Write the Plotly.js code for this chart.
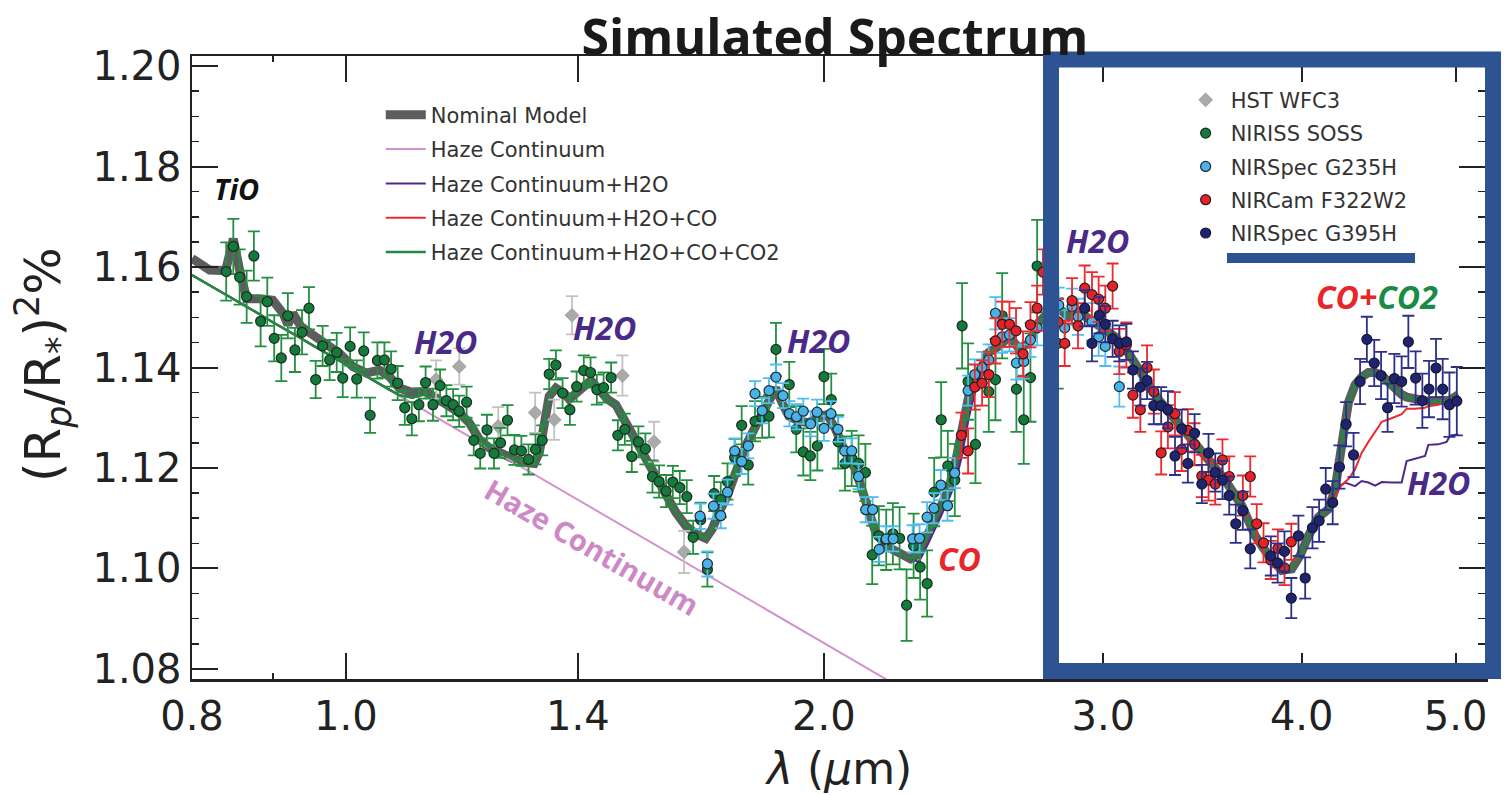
<!DOCTYPE html>
<html><head><meta charset="utf-8">
<script src="https://cdn.plot.ly/plotly-3.0.1.min.js"></script>
<style>html,body{margin:0;padding:0;background:#fff;} #chart{width:1507px;height:795px;}</style>
</head><body><div id="chart"></div>
<script>
// ---------- model curves (wavelength in micron, (Rp/R*)^2 in %) ----------
const modelWave = [
0.8000,0.8207,0.8400,0.8494,0.8572,0.8660,0.8824,0.8995,0.9128,0.9194,
0.9260,0.9373,0.9532,0.9719,0.9908,1.0100,1.0298,1.0499,1.0652,1.0807,
1.1017,1.1234,1.1451,1.1674,
1.1788,1.1960,1.2134,1.2312,1.2491,1.2735,1.2986,1.3142,1.3237,1.3333,
1.3430,1.3561,1.3725,1.3825,1.3960,1.4129,1.4267,1.4439,1.4614,1.4791,
1.5008,1.5228,1.5450,1.5676,1.5904,1.6137,1.6372,1.6611,1.6853,1.7015,
1.7181,1.7389,1.7601,1.7858,1.8119,1.8384,1.8652,1.8831,1.9015,1.9292,
1.9574,1.9860,2.0101,2.0346,2.0643,2.0944,2.1250,2.1561,2.1876,2.2301,
2.2682,2.2956,2.3291,2.3631,2.3976,2.4210,2.4434,2.4681,2.5041,2.5407,
2.5777,2.6179,2.6535,2.6923,2.7316,2.7714,2.8119,2.8529,2.8945,2.9513,
2.9928,3.0518,3.1120,3.1883,3.2502,3.3300,3.4105,3.4944,3.5754,3.6673,
3.7390,3.8118,3.8861,3.9428,3.9909,4.0392,4.0982,4.1580,
4.1985,4.2289,4.2597,4.2802,4.3215,4.3630,4.4061,4.4494,4.4926,4.5571,
4.6240,4.6576,4.7145,4.7835,4.8063,4.8764,4.9356,4.9598,5.0198];

const nominalModel = [
1.1617,1.1594,1.1593,1.1656,1.1594,1.1537,1.1537,1.1534,1.1508,1.1485,
1.1508,1.1481,1.1465,1.1448,1.1428,1.1402,1.1389,1.1395,1.1382,1.1359,
1.1350,1.1352,1.1336,1.1320,
1.1310,1.1290,1.1257,1.1240,1.1229,1.1219,1.1211,1.1209,1.1230,1.1290,
1.1343,1.1359,1.1349,1.1337,1.1350,1.1366,1.1374,1.1356,1.1337,1.1326,
1.1290,1.1250,1.1217,1.1178,1.1145,1.1112,1.1085,1.1069,1.1060,1.1079,
1.1112,1.1145,1.1191,1.1244,1.1283,1.1323,1.1359,1.1329,1.1303,1.1293,
1.1290,1.1303,1.1306,1.1277,1.1230,1.1197,1.1131,1.1072,1.1045,1.1032,
1.1019,1.1029,1.1072,1.1118,1.1158,1.1211,1.1270,1.1343,1.1389,1.1430,
1.1442,1.1462,1.1438,1.1448,1.1490,1.1510,1.1518,1.1501,1.1511,1.1494,
1.1481,1.1461,1.1428,1.1376,1.1336,1.1296,1.1257,1.1217,1.1178,1.1125,
1.1065,1.1026,1.0996,1.0999,1.1026,1.1065,1.1102,1.1118,
1.1158,1.1224,1.1303,1.1330,1.1365,1.1381,1.1390,1.1390,1.1384,1.1362,
1.1346,1.1341,1.1336,1.1334,1.1333,1.1333,1.1333,1.1335,1.1346];

const hazeH2OCOCO2 = [
1.1584,1.1564,1.1545,1.1536,1.1529,1.1521,1.1506,1.1490,1.1479,1.1473,
1.1467,1.1458,1.1444,1.1428,1.1413,1.1398,1.1383,1.1367,1.1356,1.1345,
1.1340,1.1348,1.1332,1.1318,
1.1310,1.1290,1.1257,1.1240,1.1229,1.1219,1.1211,1.1209,1.1230,1.1290,
1.1343,1.1359,1.1349,1.1337,1.1350,1.1366,1.1374,1.1356,1.1337,1.1326,
1.1290,1.1250,1.1217,1.1178,1.1145,1.1112,1.1085,1.1069,1.1060,1.1079,
1.1112,1.1145,1.1191,1.1244,1.1283,1.1323,1.1359,1.1329,1.1303,1.1293,
1.1290,1.1303,1.1306,1.1277,1.1230,1.1197,1.1131,1.1072,1.1045,1.1032,
1.1019,1.1029,1.1072,1.1118,1.1158,1.1211,1.1270,1.1343,1.1389,1.1430,
1.1442,1.1462,1.1438,1.1448,1.1490,1.1510,1.1518,1.1501,1.1511,1.1494,
1.1481,1.1461,1.1428,1.1376,1.1336,1.1296,1.1257,1.1217,1.1178,1.1125,
1.1065,1.1026,1.0996,1.0999,1.1026,1.1065,1.1102,1.1118,
1.1158,1.1224,1.1303,1.1330,1.1365,1.1381,1.1390,1.1390,1.1384,1.1362,
1.1346,1.1341,1.1336,1.1334,1.1333,1.1333,1.1333,1.1335,1.1346];

const hazeH2OCO = [
1.1584,1.1564,1.1545,1.1536,1.1529,1.1521,1.1506,1.1490,1.1479,1.1473,
1.1467,1.1458,1.1444,1.1428,1.1413,1.1398,1.1383,1.1367,1.1356,1.1345,
1.1340,1.1348,1.1332,1.1318,
1.1310,1.1290,1.1257,1.1240,1.1229,1.1219,1.1211,1.1209,1.1230,1.1290,
1.1343,1.1359,1.1349,1.1337,1.1350,1.1366,1.1374,1.1356,1.1337,1.1326,
1.1290,1.1250,1.1217,1.1178,1.1145,1.1112,1.1085,1.1069,1.1060,1.1079,
1.1112,1.1145,1.1191,1.1244,1.1283,1.1323,1.1359,1.1329,1.1303,1.1293,
1.1290,1.1303,1.1306,1.1277,1.1230,1.1197,1.1131,1.1072,1.1045,1.1032,
1.1019,1.1029,1.1072,1.1118,1.1158,1.1211,1.1270,1.1343,1.1389,1.1430,
1.1442,1.1462,1.1438,1.1448,1.1490,1.1510,1.1518,1.1501,1.1511,1.1494,
1.1481,1.1461,1.1428,1.1376,1.1336,1.1296,1.1257,1.1217,1.1178,1.1125,
1.1065,1.1026,1.0996,1.0999,1.1026,1.1065,1.1102,1.1118,
1.1145,1.1162,1.1172,1.1178,1.1197,1.1230,1.1252,1.1272,1.1292,1.1299,
1.1307,1.1318,1.1318,1.1320,1.1323,1.1326,1.1331,1.1334,1.1340];

const hazeH2O = [
1.1584,1.1564,1.1545,1.1536,1.1529,1.1521,1.1506,1.1490,1.1479,1.1473,
1.1467,1.1458,1.1444,1.1428,1.1413,1.1398,1.1383,1.1367,1.1356,1.1345,
1.1340,1.1348,1.1332,1.1318,
1.1310,1.1290,1.1257,1.1240,1.1229,1.1219,1.1211,1.1209,1.1230,1.1290,
1.1343,1.1359,1.1349,1.1337,1.1350,1.1366,1.1374,1.1356,1.1337,1.1326,
1.1290,1.1250,1.1217,1.1178,1.1145,1.1112,1.1085,1.1069,1.1060,1.1079,
1.1112,1.1145,1.1191,1.1244,1.1283,1.1323,1.1359,1.1329,1.1303,1.1293,
1.1290,1.1303,1.1306,1.1277,1.1230,1.1197,1.1131,1.1072,1.1045,1.1032,
1.1019,1.1013,1.1052,1.1095,1.1138,1.1171,1.1224,1.1300,1.1380,1.1430,
1.1442,1.1462,1.1438,1.1448,1.1490,1.1510,1.1518,1.1501,1.1511,1.1494,
1.1481,1.1461,1.1428,1.1376,1.1336,1.1296,1.1257,1.1217,1.1178,1.1125,
1.1065,1.1026,1.0996,1.0999,1.1026,1.1065,1.1102,1.1118,
1.1145,1.1165,1.1171,1.1169,1.1164,1.1174,1.1171,1.1165,1.1172,1.1171,
1.1171,1.1214,1.1219,1.1224,1.1246,1.1247,1.1252,1.1264,1.1267];

const hazeWave = [0.80, 1.00, 1.20, 1.50, 1.80, 2.10, 2.40];
const hazeContinuum = [1.1584, 1.1406, 1.1260, 1.1082, 1.0936, 1.0813, 1.0706];

// ---------- simulated data ----------
const hstWave = [1.1399,1.1788,1.2473,1.3160,1.3528,1.3881,1.4935,1.5637,1.6332];
const hstVal  = [1.1376,1.1402,1.1283,1.1310,1.1296,1.1504,1.1384,1.1252,1.1033];
const hstErr  = [0.0038,0.0036,0.0038,0.0040,0.0040,0.0038,0.0040,0.0040,0.0042];

const nirissWave = [
0.8407,0.8494,0.8572,0.8660,0.8751,0.8837,0.8923,0.9013,0.9106,0.9193,
0.9288,0.9384,0.9479,0.9572,0.9669,0.9768,0.9868,0.9955,1.0062,1.0159,
1.0263,1.0358,1.0468,1.0575,1.0678,1.0781,1.0892,1.1004,1.1117,1.1226,
1.1347,1.1464,1.1570,1.1683,1.1786,1.1914,1.2038,1.2152,1.2271,1.2397,
1.2515,1.2642,1.2770,1.2899,1.3033,1.3166,1.3295,1.3430,1.3561,1.3693,
1.3839,1.3975,1.4121,1.4260,1.4391,1.4533,1.4692,1.4836,1.4987,1.5139,
1.5285,1.5441,1.5600,1.5750,1.5911,1.6067,1.6230,1.6396,1.6548,1.6731,
1.6894,1.7059,1.7224,1.7393,1.7575,1.7755,1.7925,1.8101,1.8290,1.8472,
1.8660,1.9023,1.9217,1.9414,1.9614,1.9815,2.0005,2.0218,2.0424,2.0624,
2.0826,2.1035,2.1244,2.1455,2.1664,2.1895,2.2108,2.2324,2.2552,2.2783,
2.3000,2.3234,2.3473,2.3712,2.3941,2.4184,2.4443,2.4656,2.4922,2.5407,
2.5654,2.5905,2.6446,2.6729,2.6989,2.7253,2.8079];
const nirissVal = [
1.1591,1.1641,1.1580,1.1541,1.1622,1.1492,1.1531,1.1458,1.1419,1.1503,
1.1435,1.1470,1.1518,1.1376,1.1443,1.1415,1.1430,1.1379,1.1442,1.1377,
1.1433,1.1305,1.1414,1.1415,1.1397,1.1369,1.1320,1.1298,1.1326,1.1370,
1.1326,1.1364,1.1334,1.1326,1.1313,1.1331,1.1255,1.1229,1.1276,1.1229,
1.1250,1.1295,1.1236,1.1234,1.1217,1.1237,1.1255,1.1387,1.1405,1.1349,
1.1316,1.1362,1.1394,1.1390,1.1356,1.1360,1.1380,1.1265,1.1277,1.1223,
1.1252,1.1238,1.1183,1.1173,1.1154,1.1172,1.1161,1.1143,1.1062,1.1097,
1.0998,1.1149,1.1137,1.1173,1.1221,1.1285,1.1206,1.1293,1.1301,1.1303,
1.1436,1.1366,1.1277,1.1232,1.1224,1.1244,1.1382,1.1336,1.1252,1.1209,
1.1219,1.1209,1.1191,1.1027,1.1065,1.1057,1.1069,1.1060,1.0927,1.1045,
1.1003,1.0970,1.1152,1.1296,1.1204,1.1176,1.1483,1.1372,1.1247,1.1352,
1.1376,1.1503,1.1357,1.1296,1.1380,1.1602,1.1448];
const nirissErr = [
0.0058,0.0055,0.0055,0.0052,0.0049,0.0050,0.0048,0.0046,0.0046,0.0045,
0.0044,0.0044,0.0042,0.0037,0.0040,0.0040,0.0039,0.0038,0.0038,0.0037,
0.0037,0.0035,0.0036,0.0035,0.0035,0.0034,0.0034,0.0033,0.0033,0.0032,
0.0032,0.0032,0.0031,0.0031,0.0031,0.0031,0.0030,0.0030,0.0030,0.0030,
0.0030,0.0030,0.0030,0.0030,0.0030,0.0030,0.0030,0.0030,0.0029,0.0030,
0.0030,0.0030,0.0030,0.0030,0.0030,0.0030,0.0030,0.0030,0.0031,0.0031,
0.0031,0.0031,0.0032,0.0032,0.0032,0.0032,0.0033,0.0033,0.0033,0.0034,
0.0034,0.0035,0.0035,0.0036,0.0037,0.0038,0.0039,0.0040,0.0041,0.0042,
0.0053,0.0045,0.0046,0.0047,0.0048,0.0049,0.0055,0.0052,0.0053,0.0054,
0.0055,0.0056,0.0057,0.0058,0.0059,0.0060,0.0061,0.0062,0.0071,0.0064,
0.0065,0.0066,0.0068,0.0075,0.0070,0.0072,0.0085,0.0076,0.0077,0.0080,
0.0081,0.0085,0.0085,0.0088,0.0088,0.0092,0.0090];

const g235Wave = [
1.6714,1.6894,1.7042,1.7224,1.7393,1.7575,1.7755,1.7925,1.8101,1.8290,
1.8472,1.8660,1.8852,1.9028,1.9223,1.9414,1.9622,1.9805,2.0005,2.0210,
2.0415,2.0615,2.0826,2.1035,2.1254,2.1469,2.1674,2.1895,2.2118,2.2750,
2.2980,2.3234,2.3463,2.3700,2.3931,2.4184,2.4656,2.4897,2.5162,2.5407,
2.5654,2.5905,2.6179,2.6446,2.6729,2.6989,2.7253,2.8119,2.8364,2.8668,
2.8917,2.9509,2.9796,3.0085,3.0703];
const g235Val = [
1.1104,1.1009,1.1124,1.1105,1.1152,1.1234,1.1213,1.1244,1.1348,1.1314,
1.1354,1.1381,1.1344,1.1308,1.1302,1.1313,1.1288,1.1311,1.1279,1.1308,
1.1277,1.1234,1.1234,1.1183,1.1117,1.1117,1.1038,1.1059,1.1059,1.1059,
1.1060,1.1102,1.1120,1.1166,1.1125,1.1190,1.1354,1.1386,1.1400,1.1415,
1.1508,1.1461,1.1465,1.1409,1.1412,1.1455,1.1479,1.1524,1.1479,1.1521,
1.1501,1.1491,1.1461,1.1442,1.1362];
const g235Err = [
0.0025,0.0025,0.0025,0.0025,0.0025,0.0025,0.0025,0.0025,0.0025,0.0025,
0.0025,0.0025,0.0025,0.0025,0.0025,0.0025,0.0025,0.0025,0.0025,0.0025,
0.0025,0.0025,0.0025,0.0025,0.0025,0.0025,0.0025,0.0025,0.0025,0.0027,
0.0028,0.0030,0.0030,0.0030,0.0030,0.0030,0.0030,0.0030,0.0031,0.0031,
0.0032,0.0032,0.0033,0.0033,0.0034,0.0034,0.0035,0.0035,0.0035,0.0036,
0.0036,0.0037,0.0038,0.0039,0.0040];

const nircamWave = [
2.4418,2.4656,2.4897,2.5162,2.5407,2.5654,2.5905,2.6179,2.6431,2.6702,
2.6989,2.7253,2.7483,2.8090,2.8364,2.8668,2.8917,2.9200,2.9509,2.9796,
3.0085,3.0406,3.0703,3.1018,3.1314,3.1653,3.1962,3.2277,3.2624,3.2945,
3.3285,3.3610,3.3911,3.4243,3.4606,3.4944,3.5285,3.5657,3.6008,3.6726,
3.7124,3.7473,3.7844,3.8246,3.8640,3.9012,3.9400];
const nircamVal = [
1.1265,1.1234,1.1361,1.1369,1.1386,1.1453,1.1486,1.1486,1.1473,1.1427,
1.1485,1.1518,1.1590,1.1491,1.1448,1.1533,1.1483,1.1558,1.1545,1.1536,
1.1518,1.1562,1.1432,1.1445,1.1345,1.1316,1.1400,1.1352,1.1230,1.1282,
1.1308,1.1237,1.1275,1.1247,1.1184,1.1176,1.1168,1.1216,1.1183,1.1145,
1.1183,1.1089,1.1051,1.1017,1.1040,1.1001,1.1053];
const nircamErr = [
0.0045,0.0045,0.0045,0.0045,0.0045,0.0045,0.0045,0.0045,0.0045,0.0045,
0.0045,0.0045,0.0045,0.0045,0.0045,0.0045,0.0045,0.0045,0.0045,0.0045,
0.0045,0.0045,0.0045,0.0045,0.0045,0.0044,0.0044,0.0044,0.0043,0.0043,
0.0043,0.0043,0.0042,0.0042,0.0042,0.0041,0.0041,0.0041,0.0040,0.0040,
0.0040,0.0039,0.0039,0.0038,0.0038,0.0034,0.0036];

const g395Wave = [
2.9200,2.9509,2.9826,3.0085,3.0406,3.0703,3.1018,3.1314,3.1653,3.1962,
3.2277,3.2624,3.2945,3.3285,3.3610,3.3911,3.4243,3.4606,3.4944,3.5285,
3.5657,3.6008,3.6352,3.6726,3.7124,3.8246,3.8626,3.9012,3.9400,3.9811,
4.0202,4.0628,4.1023,4.1418,4.1838,4.2248,4.2660,4.3123,4.3533,4.3964,
4.4437,4.4878,4.5305,4.5753,4.6238,4.6690,4.7186,4.7647,4.8111,4.8601,
4.9075,4.9557,5.0090];
const g395Val = [
1.1518,1.1448,1.1504,1.1486,1.1457,1.1448,1.1451,1.1395,1.1361,1.1374,
1.1324,1.1324,1.1316,1.1224,1.1278,1.1209,1.1269,1.1168,1.1230,1.1191,
1.1176,1.1145,1.1089,1.1115,1.1039,1.1025,1.1011,1.1034,1.0941,1.1065,
1.0981,1.1081,1.1095,1.1158,1.1131,1.1202,1.1287,1.1226,1.1372,1.1456,
1.1409,1.1384,1.1320,1.1378,1.1372,1.1451,1.1379,1.1334,1.1357,1.1399,
1.1357,1.1326,1.1333];
const g395Err = [
0.0036,0.0036,0.0036,0.0036,0.0036,0.0036,0.0036,0.0037,0.0037,0.0037,
0.0037,0.0037,0.0037,0.0038,0.0038,0.0038,0.0038,0.0038,0.0038,0.0038,
0.0038,0.0038,0.0038,0.0038,0.0039,0.0039,0.0039,0.0040,0.0040,0.0040,
0.0041,0.0041,0.0042,0.0042,0.0043,0.0043,0.0044,0.0044,0.0045,0.0045,
0.0046,0.0047,0.0048,0.0049,0.0050,0.0052,0.0053,0.0054,0.0056,0.0058,
0.0060,0.0064,0.0068];

const xTickVals = [0.8, 1.0, 1.4, 2.0, 3.0, 4.0, 5.0];
const xTickText = ['0.8', '1.0', '1.4', '2.0', '3.0', '4.0', '5.0'];
const yTickVals = [1.08, 1.10, 1.12, 1.14, 1.16, 1.18, 1.20];
const yTickText = ['1.08', '1.10', '1.12', '1.14', '1.16', '1.18', '1.20'];

// ---------- traces ----------
function modelTrace(x, y, name, color, width) {
  return {x: x, y: y, type: 'scatter', mode: 'lines', name: name, legend: 'legend',
          legendgroup: name, line: {color: color, width: width}, hoverinfo: 'skip'};
}
function dataTrace(x, y, err, name, fill, errColor, symbol, edge) {
  return {x: x, y: y, type: 'scatter', mode: 'markers', name: name, legend: 'legend2',
          legendgroup: name,
          marker: {symbol: symbol, size: 10, color: fill, line: {color: edge, width: 1.2}},
          error_y: {type: 'data', array: err, visible: true, color: errColor, thickness: 1.8, width: 6}};
}
const traces = [
  modelTrace(modelWave, nominalModel, 'Nominal Model', 'rgba(75,75,75,0.9)', 9),
  modelTrace(hazeWave, hazeContinuum, 'Haze Continuum', '#d492cc', 2),
  modelTrace(modelWave, hazeH2O, 'Haze Continuum+H2O', '#4a2a8a', 2),
  modelTrace(modelWave, hazeH2OCO, 'Haze Continuum+H2O+CO', '#ec2a2f', 2),
  modelTrace(modelWave, hazeH2OCOCO2, 'Haze Continuum+H2O+CO+CO2', '#1e8a43', 2.5),
  dataTrace(hstWave, hstVal, hstErr, 'HST WFC3', '#aaaaaa', '#c2c2c2', 'diamond', '#a5a5a5'),
  dataTrace(nirissWave, nirissVal, nirissErr, 'NIRISS SOSS', '#137a3b', '#22903f', 'circle', '#1d2a20'),
  dataTrace(g235Wave, g235Val, g235Err, 'NIRSpec G235H', '#47b3e6', '#4fbdf0', 'circle', '#1d2a33'),
  dataTrace(nircamWave, nircamVal, nircamErr, 'NIRCam F322W2', '#e4222a', '#f0282e', 'circle', '#2a1a1a'),
  dataTrace(g395Wave, g395Val, g395Err, 'NIRSpec G395H', '#1e2470', '#2c3088', 'circle', '#15172e')
];

// paper-coordinate helpers for the plot frame
const P = {l: 192, r: 1485, t: 56, b: 679};
const px = v => (v - P.l) / (P.r - P.l);
const py = v => (P.b - v) / (P.b - P.t);

const boxColor = '#2e5393';
const labelFont = {family: 'Open Sans, Noto Sans, sans-serif', size: 32};
function label(text, cx, cy, color, extra) {
  return Object.assign({text: '<b><i>' + text + '</i></b>', xref: 'paper', yref: 'paper',
    x: px(cx), y: py(cy), showarrow: false, xanchor: 'center', yanchor: 'middle',
    font: Object.assign({}, labelFont, {color: color})}, extra || {});
}

const annotations = [
  label('TiO', 236, 188, '#111111', {font: Object.assign({}, labelFont, {color: '#111', size: 29})}),
  label('H2O', 445, 341, '#4a2a88'),
  label('H2O', 604, 327, '#4a2a88'),
  label('H2O', 818, 340, '#4a2a88'),
  label('H2O', 1097, 240, '#4a2a88'),
  label('H2O', 1438, 482, '#4a2a88'),
  label('CO', 959, 558, '#e8262a'),
  label('<span style="color:#e8262a">CO+</span><span style="color:#1a8a45">CO2</span>', 1377, 296, '#e8262a'),
  {text: '<b>Haze Continuum</b>', xref: 'paper', yref: 'paper', x: px(592), y: py(546),
   showarrow: false, textangle: 30, xanchor: 'center', yanchor: 'middle',
   font: {family: 'Open Sans, sans-serif', size: 29, color: '#cd88c5'}},
  {text: '<i>λ</i> (<i>μ</i>m)', xref: 'paper', yref: 'paper', x: px(838), y: py(768),
   showarrow: false, xanchor: 'center', yanchor: 'middle',
   font: {family: 'DejaVu Sans', size: 44, color: '#222'}},
  {text: '(R<sub><i>p</i></sub>/R<sub>*</sub>)<sup>2</sup>%', xref: 'paper', yref: 'paper',
   x: px(43), y: py(365), showarrow: false, textangle: -90, xanchor: 'center', yanchor: 'middle',
   font: {family: 'DejaVu Sans', size: 50, color: '#222'}}
];

const shapes = [
  {type: 'rect', xref: 'paper', yref: 'paper', x0: px(1051), x1: px(1493), y0: py(671), y1: py(59.5),
   line: {color: boxColor, width: 16}, fillcolor: 'rgba(0,0,0,0)', layer: 'above'},
  {type: 'rect', xref: 'paper', yref: 'paper', x0: px(1227), x1: px(1415), y0: py(263), y1: py(253),
   line: {width: 0}, fillcolor: boxColor, layer: 'above'}
];

const axisCommon = {
  showline: true, linecolor: '#222', linewidth: 2.5, mirror: 'allticks',
  ticks: 'inside', ticklen: 26, tickwidth: 2, tickcolor: '#222',
  showgrid: false, zeroline: false,
  tickfont: {family: 'DejaVu Sans', size: 40, color: '#222'}, ticklabelstandoff: 0
};

const layout = {
  width: 1507, height: 795,
  margin: {l: P.l, r: 1507 - P.r, t: P.t, b: 795 - P.b},
  paper_bgcolor: '#ffffff', plot_bgcolor: '#ffffff',
  font: {family: 'DejaVu Sans', color: '#222'},
  title: {text: '<b>Simulated Spectrum</b>', x: px(835), xref: 'paper', xanchor: 'center',
          y: 1 - 37 / 795, yref: 'container', yanchor: 'middle',
          font: {family: 'Open Sans, sans-serif', size: 50, color: '#1a1a1a'}},
  xaxis: Object.assign({}, axisCommon, {
    type: 'log', range: [Math.log10(0.8), Math.log10(5.218)],
    tickmode: 'array', tickvals: xTickVals, ticktext: xTickText,
    minor: {tickmode: 'array', tickvals: [0.9], ticks: 'inside', ticklen: 6, tickwidth: 1.5, tickcolor: '#222'}
  }),
  yaxis: Object.assign({}, axisCommon, {
    range: [1.078, 1.202], tickmode: 'array', tickvals: yTickVals, ticktext: yTickText,
    minor: {dtick: 0.005, tick0: 1.08, ticks: 'inside', ticklen: 7, tickwidth: 1.5, tickcolor: '#222'}
  }),
  showlegend: true,
  legend: {x: 0.146, y: 0.938, xanchor: 'left', yanchor: 'top', bgcolor: 'rgba(0,0,0,0)',
           font: {family: 'DejaVu Sans', size: 21, color: '#333'}, itemwidth: 40, tracegroupgap: 4},
  legend2: {x: 0.7646, y: 0.962, xanchor: 'left', yanchor: 'top', bgcolor: 'rgba(0,0,0,0)',
            font: {family: 'DejaVu Sans', size: 21, color: '#333'}, itemwidth: 40, tracegroupgap: 3},
  annotations: annotations,
  shapes: shapes
};

Plotly.newPlot('chart', traces, layout, {staticPlot: true, displayModeBar: false});
</script>
</body></html>
